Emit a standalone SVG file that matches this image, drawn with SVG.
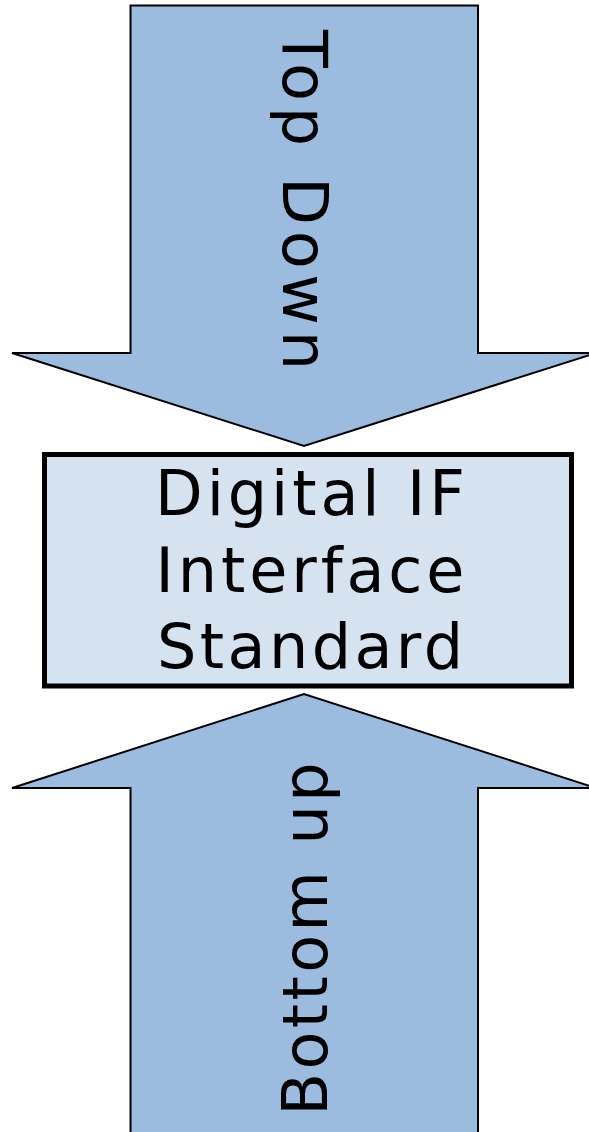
<svg xmlns="http://www.w3.org/2000/svg" width="589" height="1132" viewBox="0 0 589 1132">
  <style>
    .arrow { fill: #9bbbdf; stroke: #000; stroke-width: 2; stroke-linejoin: miter; }
    .box { fill: #d5e2f0; stroke: #000; stroke-width: 5; }
    .lbl { font-family: "DejaVu Sans", "Verdana", sans-serif; font-size: 62px; fill: #000; }
  </style>
  <rect width="589" height="1132" fill="#fff"/>
  <g id="connectors">
    <g id="top-down">
      <path class="arrow" d="M130.5,5.5 L478,5.5 L478,353 L596,353 L304,446 L12,353 L130.5,353 Z"/>
      <text class="lbl" transform="translate(283,200) rotate(90)" text-anchor="middle" textLength="340" lengthAdjust="spacing">Top Down</text>
    </g>
    <g id="bottom-up">
      <path class="arrow" d="M130.5,1140 L130.5,788 L12,788 L304,694 L596,788 L478,788 L478,1140 Z"/>
      <text class="lbl" transform="translate(327,939) rotate(-90)" text-anchor="middle" textLength="353" lengthAdjust="spacing">Bottom up</text>
    </g>
  </g>
  <g id="standard">
    <rect class="box" x="44.5" y="454.5" width="527" height="231.5"/>
    <text class="lbl" x="310" y="515" text-anchor="middle" textLength="310" lengthAdjust="spacing">Digital IF</text>
    <text class="lbl" x="310" y="592" text-anchor="middle" textLength="309" lengthAdjust="spacing">Interface</text>
    <text class="lbl" x="310" y="668" text-anchor="middle" textLength="306" lengthAdjust="spacing">Standard</text>
  </g>
</svg>
